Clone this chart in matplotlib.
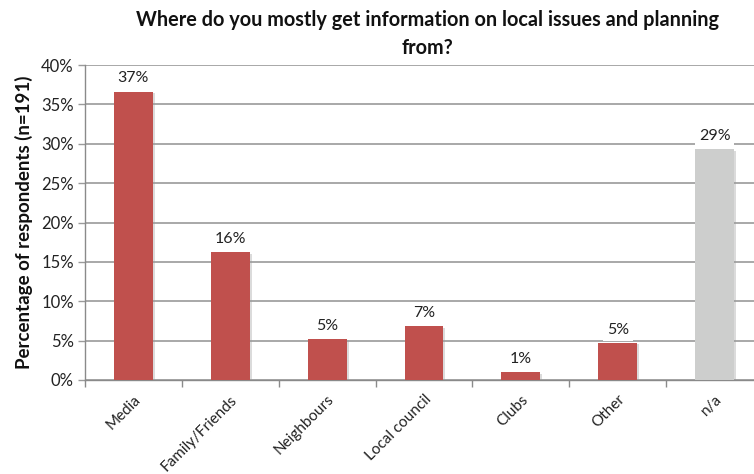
import matplotlib
matplotlib.use("Agg")
import matplotlib.pyplot as plt
import matplotlib.patheffects as pe
import numpy as np

categories = ["Media", "Family/Friends", "Neighbours", "Local council", "Clubs", "Other", "n/a"]
percent = [36.6, 16.2, 5.2, 6.8, 1.0, 4.7, 29.3]
bar_colors = ["#C0504D"] * 6 + ["#CDCECD"]
y_ticks = [0, 5, 10, 15, 20, 25, 30, 35, 40]
title = "Where do you mostly get information on local issues and planning\nfrom?"
y_label = "Percentage of respondents (n=191)"

plt.rcParams["font.family"] = ["Lato", "DejaVu Sans"]

fig = plt.figure(figsize=(7.54, 4.74), dpi=100)
ax = fig.add_axes([85 / 754, 1 - 380 / 474, (763 - 85) / 754, (380 - 65) / 474])

x = np.arange(len(categories))
shadow = [pe.SimplePatchShadow(offset=(1.5, -1), shadow_rgbFace="#999999", alpha=0.35), pe.Normal()]
bars = ax.bar(x, percent, width=0.4, color=bar_colors, zorder=3)
for b in bars:
    b.set_path_effects(shadow)

for xi, v in zip(x, percent):
    ax.text(xi, v + 1.7, f"{v:.0f}%", ha="center", va="center", fontsize=11.5,
            color="#222222", zorder=4,
            bbox=dict(boxstyle="square,pad=0.25", fc="white", ec="none"))

ax.set_xlim(-0.5, len(categories) - 0.5)
ax.set_ylim(0, 40)
ax.set_yticks(y_ticks)
ax.set_yticklabels([f"{t}%" for t in y_ticks], fontsize=12, color="#222222")
ax.yaxis.grid(True, color="#9a9a9a", linewidth=1.2, zorder=0)
ax.set_axisbelow(True)

ax.set_xticks(x)
ax.set_xticklabels(categories, rotation=45, ha="right", rotation_mode="anchor",
                   fontsize=11, color="#222222")
ax.set_xticks(np.arange(len(categories) + 1) - 0.5, minor=True)
ax.tick_params(axis="x", which="major", length=0, pad=9)
ax.tick_params(axis="x", which="minor", length=5, color="#8a8a8a", width=1)
ax.tick_params(axis="y", length=5, color="#9a9a9a", width=1, pad=3)

for s in ["top", "right"]:
    ax.spines[s].set_visible(False)
for s in ["left", "bottom"]:
    ax.spines[s].set_color("#8a8a8a")
    ax.spines[s].set_linewidth(1)

ax.set_ylabel(y_label, fontsize=13.5, fontweight="bold", color="#111111", labelpad=6)
fig.text(428 / 754, 1 - 34 / 474, title, ha="center", va="center", fontsize=14.3,
         fontweight="bold", color="#111111", linespacing=1.45)

fig.savefig("out.png", dpi=100)
